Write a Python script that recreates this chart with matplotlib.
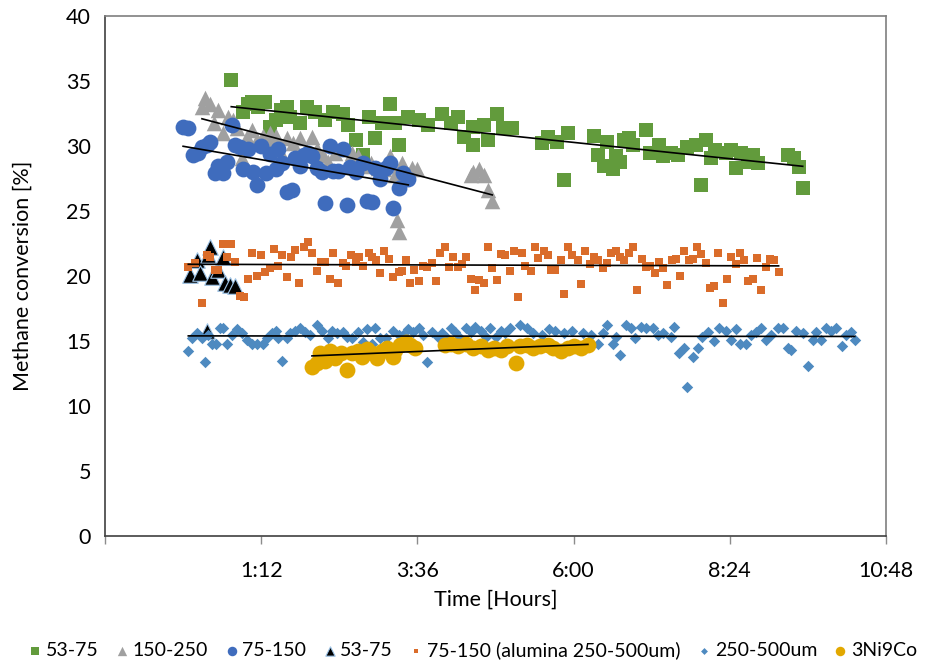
import numpy as np
import matplotlib
matplotlib.use("Agg")
import matplotlib.pyplot as plt
from matplotlib.ticker import FixedLocator, FuncFormatter

plt.rcParams['font.family'] = ['Lato', 'DejaVu Sans']

# time in hours, methane conversion in %
green_t = [0.74, 0.92, 1.06, 1.26, 1.34, 1.42, 1.60, 1.65, 1.80, 1.91, 2.03, 2.18, 2.31,
           2.46, 2.54, 2.65, 2.77, 2.85, 2.95, 3.06, 3.18, 3.26, 3.31, 3.46, 3.62, 3.77,
           3.98, 4.11, 4.23, 4.31, 4.45, 4.46, 4.62, 4.69, 4.83, 4.91, 5.06, 5.52, 5.60,
           5.75, 5.85, 5.92, 6.31, 6.38, 6.46, 6.52, 6.60, 6.65, 6.72, 6.77, 6.85, 6.92,
           7.11, 7.18, 7.31, 7.37, 7.49, 7.60, 7.75, 7.88, 7.95, 8.03, 8.11, 8.18, 8.34,
           8.42, 8.49, 8.57, 8.68, 8.75, 8.83, 9.29, 9.38, 9.46, 9.52, 1.00, 1.15, 1.50]
green_y = [35.1, 32.6, 33.4, 33.4, 31.5, 32.0, 33.0, 32.2, 31.8, 33.0, 32.6, 32.0, 32.6,
           32.5, 31.6, 30.5, 29.3, 32.2, 30.6, 31.8, 33.2, 31.8, 30.1, 32.2, 32.0, 31.6,
           32.5, 31.8, 32.2, 30.7, 30.1, 31.5, 31.6, 30.5, 32.5, 31.4, 31.4, 30.2, 30.7,
           30.3, 27.4, 31.0, 30.8, 29.3, 28.5, 30.3, 28.2, 29.2, 28.8, 30.5, 30.6, 30.1,
           31.2, 29.5, 30.1, 29.2, 29.5, 29.3, 29.9, 30.1, 27.0, 30.5, 29.1, 29.7, 29.5,
           29.7, 28.3, 29.5, 28.8, 29.3, 28.7, 29.3, 29.1, 28.4, 26.8, 33.2, 33.0, 32.8]

gray_t = [0.29, 0.34, 0.42, 0.48, 0.54, 0.62, 0.69, 0.77, 0.83, 0.91, 0.98, 1.06, 1.14,
          1.22, 1.34, 1.37, 1.42, 1.52, 1.60, 1.69, 1.80, 1.88, 1.98, 2.06, 2.15, 2.23,
          2.34, 2.60, 2.68, 2.80, 2.88, 3.00, 3.08, 3.18, 3.26, 3.37, 3.52, 3.60, 3.28,
          3.32, 4.42, 4.45, 4.54, 4.62, 4.69, 4.75]
gray_y = [33.0, 33.7, 33.2, 31.8, 32.8, 31.0, 32.2, 32.0, 31.4, 29.1, 30.7, 31.2, 30.5,
          30.8, 31.0, 30.3, 30.8, 29.3, 30.6, 30.2, 30.6, 29.5, 30.7, 29.8, 29.3, 28.8,
          29.5, 29.5, 29.2, 28.5, 28.7, 28.3, 28.2, 29.2, 27.8, 28.7, 28.3, 28.2, 24.3,
          23.4, 27.8, 28.0, 28.2, 27.8, 26.6, 25.8]

blue_t = [0.00, 0.08, 0.15, 0.23, 0.29, 0.37, 0.42, 0.49, 0.54, 0.62, 0.68, 0.75, 0.80,
          0.88, 0.92, 1.00, 1.08, 1.14, 1.20, 1.28, 1.34, 1.42, 1.46, 1.52, 1.60, 1.68,
          1.72, 1.80, 1.85, 1.92, 1.98, 2.06, 2.14, 2.18, 2.25, 2.31, 2.38, 2.45, 2.52,
          2.57, 2.65, 2.77, 2.83, 2.91, 2.95, 3.03, 3.11, 3.18, 3.23, 3.31, 3.38, 3.46]
blue_y = [31.5, 31.4, 29.3, 29.5, 29.9, 30.1, 30.3, 27.9, 28.5, 27.9, 28.8, 31.6, 30.1,
          29.9, 28.2, 29.8, 28.0, 27.0, 30.0, 27.9, 29.4, 28.2, 29.8, 28.7, 26.5, 26.6,
          29.1, 28.5, 29.3, 29.5, 29.2, 28.3, 28.0, 25.6, 30.0, 28.1, 28.1, 29.8, 25.5,
          28.4, 28.0, 28.7, 25.8, 25.7, 28.3, 27.5, 28.3, 28.7, 25.2, 26.8, 27.9, 27.5]

black_t = [0.11, 0.22, 0.26, 0.38, 0.42, 0.45, 0.54, 0.62, 0.65, 0.72, 0.80, 0.37]
black_y = [20.1, 21.2, 20.2, 21.6, 22.2, 19.9, 20.5, 21.5, 19.5, 19.3, 19.2, 15.8]

orange_t = [0.08, 0.18, 0.29, 0.37, 0.42, 0.49, 0.54, 0.62, 0.68, 0.74, 0.80, 0.88, 0.94,
            1.00, 1.06, 1.14, 1.20, 1.26, 1.34, 1.40, 1.46, 1.52, 1.60, 1.66, 1.72, 1.78,
            1.85, 1.92, 1.98, 2.06, 2.12, 2.18, 2.25, 2.31, 2.38, 2.45, 2.51, 2.58, 2.65,
            2.71, 2.77, 2.85, 2.91, 2.97, 3.03, 3.09, 3.17, 3.23, 3.31, 3.37, 3.43, 3.49,
            3.55, 3.63, 3.69, 3.75, 3.83, 3.89, 3.95, 4.02, 4.08, 4.15, 4.22, 4.28, 4.35,
            4.42, 4.48, 4.54, 4.62, 4.68, 4.75, 4.82, 4.88, 4.94, 5.02, 5.08, 5.14, 5.20,
            5.26, 5.34, 5.40, 5.46, 5.54, 5.60, 5.66, 5.72, 5.80, 5.86, 5.92, 5.98, 6.06,
            6.12, 6.18, 6.25, 6.32, 6.38, 6.45, 6.52, 6.58, 6.65, 6.71, 6.78, 6.85, 6.91,
            6.97, 7.05, 7.11, 7.17, 7.25, 7.31, 7.37, 7.43, 7.51, 7.57, 7.63, 7.69, 7.77,
            7.83, 7.89, 7.95, 8.03, 8.09, 8.15, 8.22, 8.29, 8.35, 8.42, 8.49, 8.55, 8.62,
            8.68, 8.75, 8.82, 8.88, 8.95, 9.02, 9.08, 9.15]
orange_y = [20.7, 21.0, 17.9, 21.6, 21.5, 20.5, 20.5, 22.5, 21.5, 22.5, 21.1, 18.5, 18.4,
            19.8, 21.8, 20.0, 21.6, 20.3, 20.6, 22.1, 20.8, 21.6, 19.9, 21.5, 22.0, 19.5,
            22.2, 22.6, 21.8, 20.4, 21.1, 21.1, 19.8, 21.8, 19.5, 21.0, 20.8, 21.6, 21.1,
            21.5, 20.8, 21.8, 21.5, 21.2, 20.2, 21.9, 21.3, 19.9, 20.3, 20.4, 21.2, 19.5,
            20.5, 19.6, 20.8, 20.7, 21.0, 19.6, 21.8, 22.2, 20.7, 21.5, 20.7, 20.9, 21.5,
            19.8, 18.9, 19.7, 19.5, 22.2, 20.6, 19.7, 21.7, 21.6, 20.4, 21.9, 18.4, 21.8,
            20.8, 20.4, 22.2, 21.4, 21.9, 21.6, 20.5, 20.5, 21.2, 18.6, 22.2, 21.6, 21.2,
            19.4, 21.9, 20.9, 21.5, 21.2, 20.6, 21.0, 21.8, 21.9, 21.5, 21.2, 21.8, 22.2,
            18.9, 21.3, 20.7, 20.8, 20.2, 21.1, 20.6, 19.3, 21.2, 21.3, 20.0, 21.9, 21.2,
            21.3, 22.2, 21.7, 21.0, 19.1, 19.2, 21.8, 17.9, 19.8, 21.5, 20.9, 21.8, 21.2,
            19.6, 19.8, 21.4, 18.9, 20.7, 21.3, 21.2, 20.3]

diamond_t = [0.08, 0.14, 0.22, 0.29, 0.34, 0.38, 0.45, 0.51, 0.57, 0.62, 0.68, 0.75, 0.83,
             0.91, 0.98, 1.06, 1.14, 1.22, 1.29, 1.37, 1.42, 1.46, 1.52, 1.60, 1.65, 1.72,
             1.80, 1.88, 1.95, 2.06, 2.14, 2.22, 2.29, 2.37, 2.45, 2.52, 2.60, 2.69, 2.77,
             2.83, 2.91, 2.95, 3.03, 3.11, 3.23, 3.31, 3.38, 3.46, 3.54, 3.62, 3.69, 3.75,
             3.83, 3.91, 3.98, 4.06, 4.11, 4.18, 4.26, 4.34, 4.42, 4.49, 4.57, 4.65, 4.72,
             4.80, 4.88, 4.95, 5.03, 5.18, 5.29, 5.38, 5.52, 5.62, 5.72, 5.85, 5.98, 6.14,
             6.26, 6.37, 6.45, 6.52, 6.60, 6.65, 6.71, 6.80, 6.88, 6.95, 7.03, 7.11, 7.22,
             7.29, 7.38, 7.49, 7.55, 7.62, 7.69, 7.75, 7.83, 7.91, 7.98, 8.06, 8.15, 8.23,
             8.34, 8.42, 8.49, 8.55, 8.65, 8.72, 8.80, 8.88, 8.95, 9.03, 9.14, 9.22, 9.29,
             9.34, 9.42, 9.52, 9.60, 9.68, 9.72, 9.80, 9.88, 9.95, 10.03, 10.12, 10.18,
             10.26, 10.32]
diamond_y = [14.2, 15.2, 15.6, 15.2, 13.4, 15.5, 14.8, 14.8, 16.0, 16.0, 14.8, 15.5, 15.9,
             15.6, 15.1, 14.8, 14.8, 14.8, 15.2, 15.6, 15.8, 15.2, 13.5, 15.2, 15.6, 15.8,
             16.0, 15.7, 15.5, 16.2, 15.8, 15.2, 15.8, 15.6, 15.7, 15.3, 15.2, 15.7, 14.9,
             15.9, 14.8, 16.0, 15.2, 15.2, 15.8, 15.5, 15.5, 15.9, 15.7, 16.0, 15.5, 13.4,
             15.7, 15.3, 15.6, 15.2, 16.0, 15.7, 15.2, 16.0, 15.7, 16.1, 15.8, 15.3, 16.0,
             15.3, 15.8, 15.6, 16.0, 16.2, 16.0, 15.6, 15.5, 15.9, 15.8, 15.6, 15.8, 15.6,
             15.5, 14.8, 15.6, 16.2, 14.8, 15.3, 13.9, 16.2, 16.0, 15.2, 16.1, 16.0, 16.0,
             15.5, 15.6, 15.3, 16.1, 14.1, 14.5, 11.5, 13.8, 14.5, 15.3, 15.7, 15.0, 16.0,
             15.8, 15.1, 15.9, 14.8, 14.8, 15.5, 15.7, 16.0, 15.1, 15.5, 16.0, 16.0, 14.5,
             14.3, 15.8, 15.6, 13.1, 15.1, 15.7, 15.1, 16.0, 15.8, 16.0, 14.6, 15.5,
             15.7, 15.1]

gold_t = [1.98, 2.06, 2.11, 2.18, 2.26, 2.34, 2.42, 2.52, 2.60, 2.68, 2.75, 2.83, 2.91,
          2.98, 3.06, 3.14, 3.22, 3.26, 3.34, 3.42, 3.49, 3.57, 4.03, 4.11, 4.22, 4.34,
          4.46, 4.57, 4.68, 4.77, 4.88, 4.98, 5.11, 5.18, 5.29, 5.38, 5.49, 5.60, 5.69,
          5.80, 5.91, 6.00, 6.11, 6.22]
gold_y = [13.0, 13.3, 14.1, 13.5, 14.2, 13.7, 14.1, 12.8, 14.1, 14.2, 13.8, 14.4, 14.1,
          13.7, 14.2, 14.5, 13.8, 14.3, 14.7, 14.9, 14.7, 14.5, 14.7, 14.8, 14.6, 14.8,
          14.5, 14.6, 14.3, 14.5, 14.3, 14.6, 13.3, 14.6, 14.7, 14.5, 14.6, 14.7, 14.5,
          14.2, 14.5, 14.6, 14.5, 14.7]

x_ticks = [-1.2, 1.2, 3.6, 6.0, 8.4, 10.8]


def hours_label(h, pos=None):
    if h < 0:
        return ''
    minutes = int(round(h * 60))
    return f"{minutes // 60}:{minutes % 60:02d}"


def add_trend(ax, t, y):
    t, y = np.asarray(t), np.asarray(y)
    k, b = np.polyfit(t, y, 1)
    xs = np.array([t.min(), t.max()])
    ax.plot(xs, k * xs + b, color='black', lw=1.2, zorder=20)


fig = plt.figure(figsize=(9.43, 6.64), dpi=100)
ax = fig.add_axes([105 / 943, 1 - 536 / 664, 781 / 943, 520 / 664])

ax.scatter(green_t, green_y, marker='s', s=100, color='#629B3C', lw=0, zorder=3, label='53-75')
ax.scatter(gray_t, gray_y, marker='^', s=125, color='#A0A0A0', lw=0, zorder=4, label='150-250')
ax.scatter(blue_t, blue_y, marker='o', s=130, color='#3F6CBD', lw=0, zorder=5, label='75-150')
ax.scatter(black_t, black_y, marker='^', s=125, color='black', edgecolors='#9DC3E6', lw=0.8,
           zorder=6, label='53-75')
ax.scatter(orange_t, orange_y, marker='s', s=30, color='#DA6C2A', lw=0, zorder=7,
           label='75-150 (alumina 250-500um)')
ax.scatter(diamond_t, diamond_y, marker='D', s=34, color='#4E8AC0', lw=0, zorder=8,
           label='250-500um')
ax.scatter(gold_t, gold_y, marker='o', s=130, color='#E2A800', lw=0, zorder=9, label='3Ni9Co')

for t, y in [(green_t, green_y), (gray_t, gray_y), (blue_t, blue_y),
             (orange_t, orange_y), (diamond_t, diamond_y), (gold_t, gold_y)]:
    add_trend(ax, t, y)

ax.set_xlim(-1.2, 10.8)
ax.set_ylim(0, 40)
ax.xaxis.set_major_locator(FixedLocator(x_ticks))
ax.xaxis.set_major_formatter(FuncFormatter(hours_label))
ax.set_yticks(np.arange(0, 41, 5))
ax.tick_params(axis='x', length=6, width=1, color='#8C8C8C', labelsize=15.5, pad=12)
ax.tick_params(axis='y', length=0, labelsize=15.5, pad=10)
for side in ['top', 'right', 'bottom', 'left']:
    ax.spines[side].set_color('#7F7F7F')
    ax.spines[side].set_linewidth(1.2)
ax.spines['left'].set_color('#404040')
ax.spines['bottom'].set_color('#404040')

ax.set_xlabel('Time [Hours]', fontsize=15.5, labelpad=6)
ax.set_ylabel('Methane conversion [%]', fontsize=15.5, labelpad=24)

fig.legend(loc='center', bbox_to_anchor=(0.5, 1 - 650 / 664), ncol=7,
           frameon=False, fontsize=14, handletextpad=0.05, columnspacing=0.7,
           markerscale=0.6, handlelength=1.0, borderaxespad=0)

fig.savefig('out.png', dpi=100)
